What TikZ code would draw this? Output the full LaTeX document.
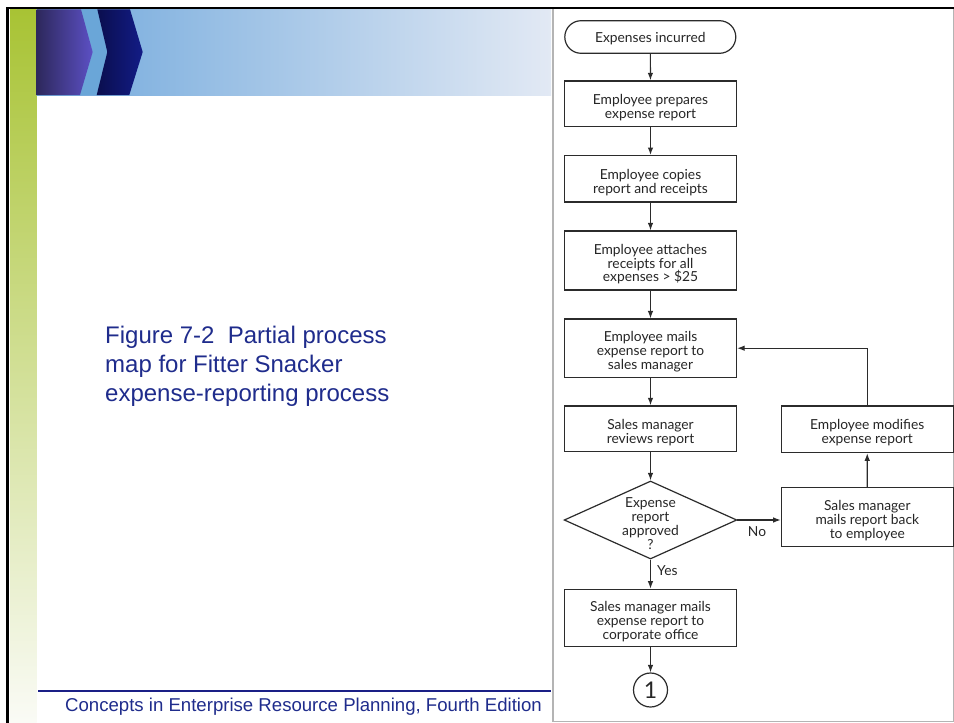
\documentclass[tikz,border=0pt]{standalone}
\usepackage{fontspec}
\setmainfont{Liberation Sans}
\newfontfamily\flowfont{Lato}
\usetikzlibrary{shapes.geometric,shapes.misc,arrows.meta}
\newcommand\liftline{\rule{0pt}{17.5pt}}
\definecolor{capblue}{HTML}{1F2C8C}
\definecolor{footline}{HTML}{1A1F86}
\definecolor{flowline}{HTML}{2B2B2B}
\definecolor{panelgray}{HTML}{B4B4B4}
\definecolor{greentop}{RGB}{168,195,52}
\definecolor{greenbot}{RGB}{250,251,246}
\definecolor{bandleft}{RGB}{112,168,220}
\definecolor{bandright}{RGB}{226,233,244}
\definecolor{stripe}{RGB}{106,166,216}
\definecolor{navyleft}{RGB}{10,14,78}
\definecolor{navyright}{RGB}{19,28,134}
\definecolor{purpleleft}{RGB}{45,40,92}
\definecolor{purpleright}{RGB}{92,80,196}
\tikzset{
  flow/.style={draw=flowline, line width=1.2pt, fill=white, align=center,
    font=\flowfont\fontsize{13.8}{13.9}\selectfont, inner sep=0pt,
    minimum width=172pt, text=black!85},
  procbox/.style={flow, rectangle},
  termbox/.style={flow, rounded rectangle, execute at begin node={\rule{0pt}{13pt}}, minimum height=32.6pt, minimum width=171pt},
  decbox/.style={flow, diamond, aspect=2.2, inner sep=-6pt, minimum width=172.7pt, minimum height=78pt},
  connbox/.style={flow, circle, minimum width=34pt, font=\flowfont\fontsize{23}{24}\selectfont},
  arr/.style={draw=flowline, line width=1.2pt, -{Latex[length=7.5pt,width=5.5pt]}},
  lbl/.style={font=\flowfont\fontsize{13.8}{14}\selectfont, text=black!85, inner sep=0pt}
}
\begin{document}
\begin{tikzpicture}[x=1pt,y=-1pt]
\useasboundingbox (0,0) rectangle (954,723);
\fill[white] (0,0) rectangle (954,723);
% green bar
\shade[top color=greentop, bottom color=greenbot] (10,9) rectangle (36.7,723);
% header band
\shade[left color=bandleft, right color=bandright] (36.7,9.3) rectangle (551,95);
% stripe
\fill[stripe] (81,9.3) -- (97.3,9.3) -- (107.3,52) -- (96.7,95) -- (80,95) -- (92.7,52) -- cycle;
% navy chevron
\shade[left color=navyleft, right color=navyright] (97.3,9.3) -- (130,9.3) -- (142.7,52) -- (129.3,95) -- (96.7,95) -- (107.3,52) -- cycle;
% purple chevron
\shade[left color=purpleleft, right color=purpleright] (36.7,9.3) -- (81,9.3) -- (92.7,52) -- (80,95) -- (36.7,95) -- cycle;
% panel border
\draw[panelgray, line width=1.2pt] (553,9) -- (553,721.5) -- (953.3,721.5) -- (953.3,9);
% black frame lines
\draw[black, line width=2.6pt] (6,8) -- (954,8);
\draw[black, line width=2.6pt] (7.4,8) -- (7.4,723);
% footer line
\draw[footline, line width=2pt] (38,690.7) -- (551,690.7);
% caption
\node[anchor=north west, align=left, text=capblue, inner sep=0pt,
  font=\fontsize{24}{29}\selectfont] (cap) at (105,326)
  {Figure 7-2\ \ Partial process\\map for Fitter Snacker\\expense-reporting process};
\node[anchor=base west, text=capblue, inner sep=0pt, font=\fontsize{18.6}{20}\selectfont]
  (foot) at (65,711) {Concepts in Enterprise Resource Planning, Fourth Edition};
% flowchart
\node[termbox] (t0) at (650.3,37) {Expenses incurred};
\node[procbox, minimum height=45.7pt] (b1) at (650.5,103.8) {\liftline Employee prepares\\expense report};
\node[procbox, minimum height=46.3pt] (b2) at (650.5,178.8) {\liftline Employee copies\\report and receipts};
\node[procbox, minimum height=59pt] (b3) at (650.5,260.5) {\liftline Employee attaches\\receipts for all\\expenses > \$25};
\node[procbox, minimum height=58.3pt] (b4) at (650.5,348.2) {\liftline Employee mails\\expense report to\\sales manager};
\node[procbox, minimum height=45.7pt] (b5) at (650.5,428.8) {\liftline Sales manager\\reviews report};
\node[decbox] (d1) at (650.5,520) {\liftline Expense\\report\\approved\\?};
\node[procbox, minimum height=57.4pt] (b8) at (650.5,618) {\liftline Sales manager mails\\expense report to\\corporate office};
\node[connbox] (c1) at (650.5,690) {1};
\node[procbox, minimum height=46.7pt] (b6) at (867.2,429.3) {\liftline Employee modifies\\expense report};
\node[procbox, minimum height=59pt] (b7) at (867.3,517.2) {\liftline Sales manager\\mails report back\\to employee};
\draw[arr] (t0) -- (b1);
\draw[arr] (b1) -- (b2);
\draw[arr] (b2) -- (b3);
\draw[arr] (b3) -- (b4);
\draw[arr] (b4) -- (b5);
\draw[arr] (b5) -- (d1);
\draw[arr] (d1) -- (b8);
\draw[arr] (b8) -- (c1);
\draw[arr] (d1.east) -- (d1.east -| b7.west);
\draw[arr] (b7) -- (b6);
\draw[arr] (b6.north) |- (b4.east);
\node[lbl, anchor=west] (yes) at (657,571) {Yes};
\node[lbl] (no) at (757,532) {No};
\end{tikzpicture}
\end{document}
